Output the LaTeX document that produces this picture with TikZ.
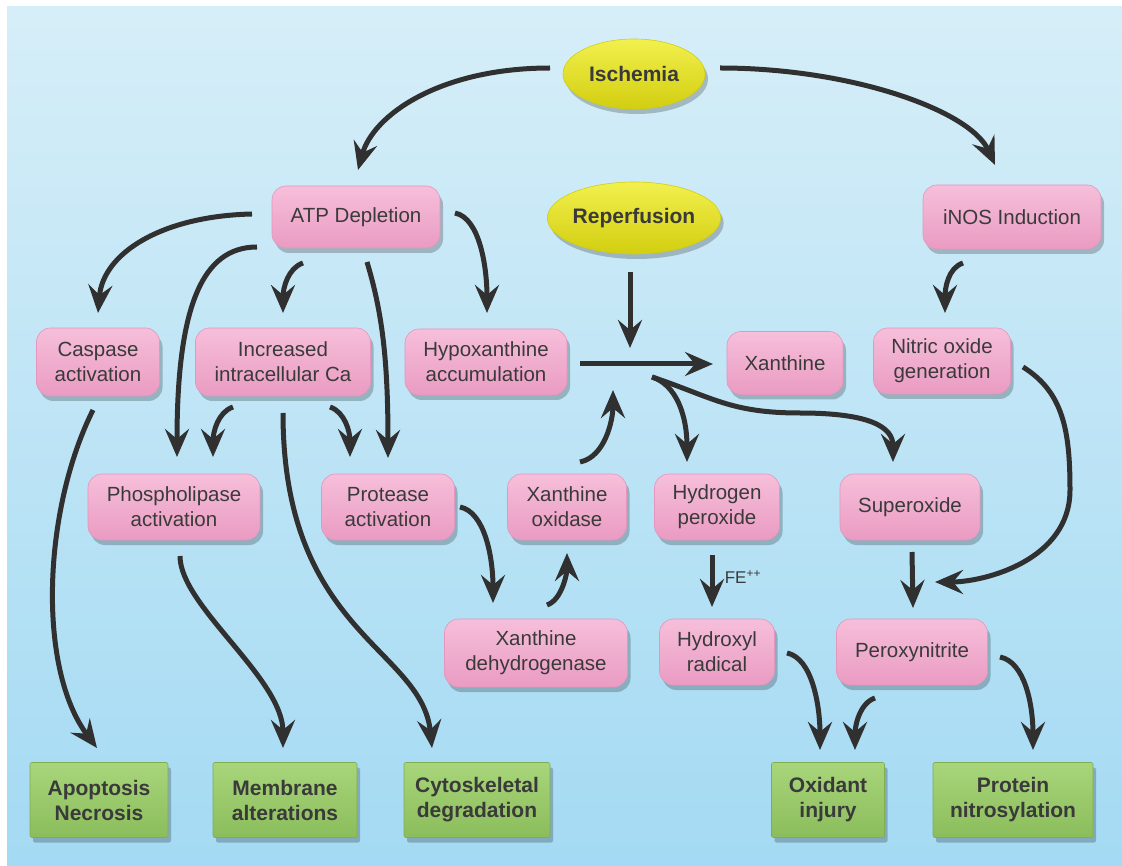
\documentclass[tikz,border=0pt]{standalone}
\usepackage{fontspec}
\setmainfont{Liberation Sans}
\usetikzlibrary{arrows.meta,shapes.geometric,shadows,calc}
\definecolor{bgT}{HTML}{D6EEF8}
\definecolor{bgB}{HTML}{A4DAF3}
\definecolor{txt}{HTML}{3A3A3A}
\definecolor{pinkT}{HTML}{F6BFDA}
\definecolor{pinkM}{HTML}{F2B0D0}
\definecolor{pinkB}{HTML}{EA9BC2}
\definecolor{pinkE}{HTML}{E496BE}
\definecolor{greenT}{HTML}{A8D57A}
\definecolor{greenM}{HTML}{9ECC6D}
\definecolor{greenB}{HTML}{8BBD5C}
\definecolor{greenE}{HTML}{7FAE52}
\definecolor{yelT}{HTML}{F2F04E}
\definecolor{yelM}{HTML}{E8E51E}
\definecolor{yelB}{HTML}{D2CE10}
\definecolor{arrc}{HTML}{303030}
\tikzset{
  sz/.style 2 args={minimum width=#1pt, minimum height=#2pt},
  shad/.style={drop shadow={shadow xshift=3pt, shadow yshift=-5pt, opacity=0.22, fill=black}},
  pbox/.style={rectangle, rounded corners=14pt, top color=pinkT, middle color=pinkM, bottom color=pinkB,
    draw=pinkE, line width=0.6pt, text=txt, align=center, inner sep=0pt,
    font=\fontsize{20.5}{25}\selectfont, shad},
  gbox/.style={rectangle, rounded corners=2pt, top color=greenT, middle color=greenM, bottom color=greenB,
    draw=greenE, line width=0.6pt, text=txt, align=center, inner sep=0pt,
    font=\fontsize{21}{25}\selectfont\bfseries, shad},
  ell/.style={ellipse, top color=yelT, middle color=yelM, bottom color=yelB, draw=yelB, line width=0.6pt,
    text=txt, inner sep=0pt, font=\fontsize{21}{25}\selectfont\bfseries, shad},
  arr/.style={draw=arrc, line width=5pt, -{Stealth[length=28pt,width=24pt,inset=10pt]}},
}
\begin{document}
\begin{tikzpicture}[x=1pt,y=-1pt]
\useasboundingbox (0,0) rectangle (1122,866);
\fill[white] (0,0) rectangle (1122,866);
\shade[top color=bgT,bottom color=bgB] (7,7) rectangle (1122,866);

% ovals
\node[ell,sz={142}{70}] (isch) at (634,74) {Ischemia};
\node[ell,sz={160}{72}] (rep) at (634,218) {Reperfusion};

% pink boxes
\node[pbox,sz={168}{62}] (atp) at (356,217) {ATP Depletion};
\node[pbox,sz={178}{64}] (inos) at (1012,217) {iNOS Induction};
\node[pbox,sz={123}{68}] (casp) at (98,362) {Caspase\\activation};
\node[pbox,sz={175}{68}] (ca) at (283,362) {Increased\\intracellular Ca};
\node[pbox,sz={162}{66}] (hypo) at (486,362) {Hypoxanthine\\accumulation};
\node[pbox,sz={116}{63}] (xan) at (785,363) {Xanthine};
\node[pbox,sz={137}{66}] (no) at (942,361) {Nitric oxide\\generation};
\node[pbox,sz={172}{66}] (phos) at (174,507) {Phospholipase\\activation};
\node[pbox,sz={133}{66}] (prot) at (388,507) {Protease\\activation};
\node[pbox,sz={119}{66}] (xo) at (567,507) {Xanthine\\oxidase};
\node[pbox,sz={125}{66}] (hp) at (717,507) {Hydrogen\\peroxide};
\node[pbox,sz={140}{66}] (sup) at (910,507) {Superoxide};
\node[pbox,sz={183}{68}] (xdh) at (536,653) {Xanthine\\dehydrogenase};
\node[pbox,sz={115}{66}] (hyd) at (717,652) {Hydroxyl\\radical};
\node[pbox,sz={151}{66}] (pero) at (912,652) {Peroxynitrite};

% green boxes
\node[gbox,sz={138}{75}] (apo) at (99,800) {Apoptosis\\Necrosis};
\node[gbox,sz={144}{75}] (mem) at (285,800) {Membrane\\alterations};
\node[gbox,sz={146}{75}] (cyto) at (477,800) {Cytoskeletal\\degradation};
\node[gbox,sz={113}{75}] (oxi) at (828,800) {Oxidant\\injury};
\node[gbox,sz={160}{75}] (prn) at (1013,800) {Protein\\nitrosylation};

\coordinate (jn) at (630,364);

% arrows
\draw[arr] ($(isch.center)+(-84,-6)$) .. controls +(-110,0) and +(15,-55) .. ($(atp.center)+(2,-47)$);
\draw[arr] ($(isch.center)+(86,-6)$) .. controls +(130,0) and +(-25,-55) .. ($(inos.center)+(-17,-52)$);
\draw[arr] ($(atp.center)+(-104,-3)$) .. controls +(-90,2) and +(5,-60) .. ($(casp.center)+(0,-49)$);
\draw[arr] ($(atp.center)+(-99,30)$) .. controls +(-55,0) and +(0,-150) .. ($(phos.center)+(3,-50)$);
\draw[arr] ($(atp.center)+(-53,46)$) .. controls +(-15,5) and +(0,-25) .. ($(ca.center)+(0,-49)$);
\draw[arr] ($(atp.center)+(11,45)$) .. controls +(15,50) and +(0,-100) .. ($(prot.center)+(0,-49)$);
\draw[arr] ($(atp.center)+(99,-4)$) .. controls +(25,5) and +(0,-45) .. ($(hypo.center)+(1,-49)$);

\draw[arr] ($(hypo.center)+(94,2)$) -- ($(xan.center)+(-72,1)$);
\draw[arr] ($(rep.center)+(-4,54)$) -- ($(jn)+(0,-16)$);
\draw[arr] ($(xo.center)+(13,-45)$) .. controls +(25,-5) and +(0,30) .. ($(jn)+(-17,26)$);
\draw[arr] ($(jn)+(22,13)$) .. controls +(25,8) and +(0,-45) .. ($(hp.center)+(-30,-45)$);
\draw[arr] ($(jn)+(22,13)$) .. controls +(60,20) and +(-70,0) .. ($(jn)+(170,49)$)
   .. controls +(70,0) and +(0,-35) .. ($(sup.center)+(-17,-45)$);

\draw[arr] ($(inos.center)+(-49,46)$) .. controls +(-15,5) and +(0,-25) .. ($(no.center)+(3,-48)$);
\draw[arr] ($(no.center)+(81,6)$) .. controls +(40,25) and +(0,-60) .. ($(no.center)+(128,129)$)
   .. controls +(0,70) and +(50,0) .. ($(pero.center)+(23,-70)$);
\draw[arr] ($(sup.center)+(2,45)$) -- ($(pero.center)+(1,-44)$);

\draw[arr] ($(casp.center)+(-5,48)$) .. controls +(-50,100) and +(-60,-80) .. ($(apo.center)+(-2,-52)$);
\draw[arr] ($(phos.center)+(6,49)$) .. controls +(0,50) and +(0,-70) .. ($(mem.center)+(-2,-52)$);
\draw[arr] ($(ca.center)+(0,51)$) .. controls +(0,220) and +(-10,-100) .. ($(cyto.center)+(-45,-52)$);
\draw[arr] ($(ca.center)+(-50,45)$) .. controls +(-15,5) and +(0,-25) .. ($(phos.center)+(39,-50)$);
\draw[arr] ($(ca.center)+(47,45)$) .. controls +(15,5) and +(0,-25) .. ($(prot.center)+(-38,-50)$);

\draw[arr] ($(prot.center)+(72,0)$) .. controls +(25,5) and +(0,-45) .. ($(xdh.center)+(-43,-50)$);
\draw[arr] ($(xdh.center)+(11,-48)$) .. controls +(15,-5) and +(0,20) .. ($(xo.center)+(0,46)$);

\draw[arr] ($(hp.center)+(-5,48)$) -- node[right=7pt, pos=0.42, text=txt, font=\fontsize{17}{20}\selectfont] (fe) {FE\textsuperscript{++}} ($(hyd.center)+(-5,-45)$);
\draw[arr] ($(hyd.center)+(70,1)$) .. controls +(25,5) and +(0,-45) .. ($(oxi.center)+(-8,-50)$);
\draw[arr] ($(pero.center)+(-37,46)$) .. controls +(-15,5) and +(0,-25) .. ($(oxi.center)+(27,-50)$);
\draw[arr] ($(pero.center)+(88,5)$) .. controls +(25,5) and +(0,-45) .. ($(prn.center)+(20,-50)$);
\end{tikzpicture}
\end{document}
